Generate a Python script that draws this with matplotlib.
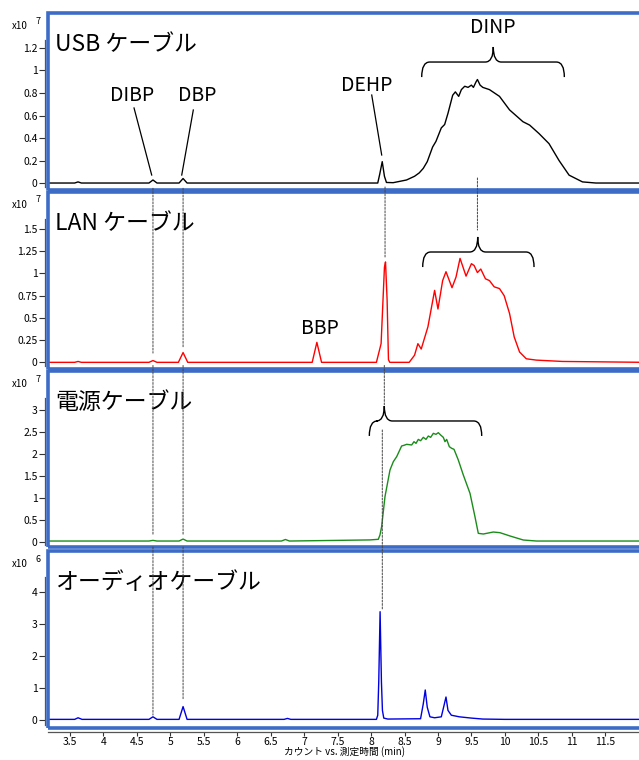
import matplotlib
matplotlib.use("Agg")
import matplotlib.pyplot as plt
from matplotlib.patches import Rectangle, PathPatch, ConnectionPatch
from matplotlib.path import Path
from matplotlib.ticker import FormatStrFormatter
import matplotlib.transforms as mtransforms

plt.rcParams["font.family"] = ["Noto Sans CJK JP", "DejaVu Sans"]

# Chromatogram traces (time in min, counts in x10^n)
usb_t = [3.17, 3.57, 3.62, 3.67, 4.68, 4.74, 4.80, 5.13, 5.19, 5.25, 8.10, 8.13,
         8.167, 8.20, 8.23, 8.33, 8.53, 8.65, 8.72, 8.78, 8.84, 8.92, 8.97, 9.05,
         9.10, 9.15, 9.22, 9.26, 9.31, 9.35, 9.40, 9.45, 9.50, 9.53, 9.57, 9.59,
         9.63, 9.67, 9.77, 9.92, 10.07, 10.27, 10.37, 10.51, 10.66, 10.81, 10.96,
         11.16, 11.36, 12.1]
usb_v = [0, 0, 0.01, 0, 0, 0.027, 0, 0, 0.04, 0, 0, 0.08,
         0.19, 0.06, 0.005, 0.003, 0.027, 0.06, 0.09, 0.13, 0.19, 0.32, 0.37, 0.49,
         0.52, 0.62, 0.78, 0.81, 0.77, 0.83, 0.86, 0.85, 0.87, 0.85, 0.90, 0.92,
         0.87, 0.85, 0.83, 0.77, 0.65, 0.545, 0.515, 0.44, 0.35, 0.20, 0.07,
         0.01, 0, 0]

lan_t = [3.17, 3.57, 3.62, 3.67, 4.68, 4.74, 4.80, 5.12, 5.19, 5.26, 7.12, 7.19,
         7.26, 8.08, 8.15, 8.20, 8.216, 8.24, 8.26, 8.28, 8.57, 8.65, 8.70, 8.75,
         8.85, 8.95, 9.00, 9.07, 9.12, 9.21, 9.27, 9.33, 9.42, 9.50, 9.54, 9.59,
         9.64, 9.71, 9.77, 9.84, 9.92, 9.99, 10.07, 10.14, 10.22, 10.32, 10.47,
         10.86, 12.1]
lan_v = [0, 0, 0.01, 0, 0, 0.02, 0, 0, 0.11, 0, 0, 0.225,
         0, 0, 0.21, 1.07, 1.13, 0.70, 0.03, 0, 0, 0.08, 0.21, 0.15,
         0.40, 0.81, 0.60, 0.92, 1.02, 0.84, 0.96, 1.17, 0.97, 1.11, 1.09, 1.01,
         1.05, 0.94, 0.92, 0.85, 0.83, 0.75, 0.55, 0.285, 0.116, 0.04, 0.025,
         0.01, 0]

power_t = [3.17, 4.68, 4.74, 4.80, 5.13, 5.19, 5.25, 6.66, 6.72, 6.78, 7.98,
           8.108, 8.133, 8.158, 8.208, 8.283, 8.333, 8.383, 8.457, 8.492, 8.532,
           8.607, 8.642, 8.672, 8.706, 8.741, 8.781, 8.821, 8.856, 8.891, 8.931,
           8.970, 9.005, 9.040, 9.080, 9.105, 9.130, 9.170, 9.205, 9.240, 9.304,
           9.379, 9.479, 9.553, 9.603, 9.678, 9.827, 9.927, 10.077, 10.276,
           10.475, 12.1]
power_v = [0.015, 0.015, 0.03, 0.015, 0.015, 0.06, 0.015, 0.015, 0.05, 0.015, 0.04,
           0.054, 0.152, 0.342, 1.025, 1.633, 1.823, 1.937, 2.18, 2.195, 2.218,
           2.203, 2.278, 2.24, 2.33, 2.30, 2.377, 2.33, 2.407, 2.377, 2.468,
           2.445, 2.483, 2.43, 2.377, 2.278, 2.33, 2.164, 2.127, 2.104, 1.861,
           1.519, 1.101, 0.57, 0.19, 0.175, 0.22, 0.205, 0.13, 0.038,
           0.015, 0.015]

audio_t = [3.17, 3.57, 3.62, 3.68, 4.68, 4.74, 4.80, 5.13, 5.19, 5.25, 6.70, 6.75,
           6.80, 8.08, 8.10, 8.115, 8.135, 8.155, 8.17, 8.19, 8.25, 8.74, 8.78,
           8.81, 8.84, 8.88, 8.95, 9.05, 9.09, 9.12, 9.15, 9.20, 9.32, 9.50, 9.67,
           10.0, 12.1]
audio_v = [0.02, 0.02, 0.07, 0.02, 0.02, 0.10, 0.02, 0.02, 0.42, 0.02, 0.02, 0.05,
           0.02, 0.02, 0.15, 1.2, 3.39, 1.2, 0.3, 0.06, 0.03, 0.04, 0.5,
           0.94, 0.4, 0.1, 0.07, 0.1, 0.45, 0.72, 0.3, 0.15, 0.1, 0.06, 0.03,
           0.02, 0.02]

titles = ["USB ケーブル", "LAN ケーブル", "電源ケーブル", "オーディオケーブル"]
exponents = ["7", "7", "7", "6"]
colors = ["black", "#ff0000", "#1a8c1a", "#0000e0"]
ylims = [(-0.062, 1.511), (-0.075, 1.917), (-0.121, 3.888), (-0.25, 5.29)]
yticks = [[0, 0.2, 0.4, 0.6, 0.8, 1, 1.2],
          [0, 0.25, 0.5, 0.75, 1, 1.25, 1.5],
          [0, 0.5, 1, 1.5, 2, 2.5, 3],
          [0, 1, 2, 3, 4]]
spine_tops = [1.27, 1.61, 3.27, 4.48]
xticks = [3.5, 4, 4.5, 5, 5.5, 6, 6.5, 7, 7.5, 8, 8.5, 9, 9.5, 10, 10.5, 11, 11.5]

W, H = 639, 760
# panel frames in pixels: (top, bottom)
frames = [(13, 190), (192, 369), (371, 547), (551, 728)]
left_px, right_px = 48, 641

fig = plt.figure(figsize=(W / 100, H / 100), dpi=100)

axes = []
traces = [(usb_t, usb_v), (lan_t, lan_v), (power_t, power_v), (audio_t, audio_v)]
for i, (top, bot) in enumerate(frames):
    ax = fig.add_axes([left_px / W, (H - bot) / H, (right_px - left_px) / W, (bot - top) / H])
    t, v = traces[i]
    ax.plot(t, v, color=colors[i], lw=1.0)
    ax.set_xlim(3.171, 12.035)
    ax.set_ylim(*ylims[i])
    ax.set_yticks(yticks[i])
    ax.yaxis.set_major_formatter(FormatStrFormatter("%g"))
    for s in ["top", "right", "bottom"]:
        ax.spines[s].set_visible(False)
    ax.spines["left"].set_position(("outward", 2))
    ax.spines["left"].set_color("#555555")
    ax.spines["left"].set_linewidth(0.9)
    ax.spines["left"].set_bounds(ylims[i][0] * 0.6, spine_tops[i])
    ax.tick_params(axis="y", length=4, width=0.8, color="#333333", labelsize=7.5, pad=1.5)
    ax.set_facecolor("none")

    # blue frame
    ax.add_patch(Rectangle((0, 0), 1, 1, transform=ax.transAxes, fill=False,
                           ec="#3c6cc6", lw=2.6, clip_on=False, zorder=5))

    ax.text(0.012, 0.82, titles[i], transform=ax.transAxes, fontsize=16.5,
            va="center", ha="left", zorder=6)

    # exponent label
    fig.text(12 / W, 1 - (top + 13) / H, "x10", fontsize=7, va="center", ha="left")
    fig.text(36 / W, 1 - (top + 8) / H, exponents[i], fontsize=6.5, va="center", ha="left")

    if i < 3:
        ax.set_xticks([])
    else:
        ax.set_xticks(xticks)
        ax.xaxis.set_major_formatter(FormatStrFormatter("%g"))
        ax.spines["bottom"].set_visible(True)
        ax.spines["bottom"].set_position(("outward", 3))
        ax.spines["bottom"].set_color("#555555")
        ax.spines["bottom"].set_linewidth(0.9)
        ax.tick_params(axis="x", length=3, width=0.8, color="#333333", labelsize=7.5, pad=0.5)
        ax.set_xlabel("カウント vs. 測定時間 (min)", fontsize=7, labelpad=-0.5)
    axes.append(ax)

ax1, ax2, ax3, ax4 = axes


def blend(ax):
    return mtransforms.blended_transform_factory(ax.transData, ax.transAxes)


# compound labels with leader lines (panel 1)
ax1.text(4.427, 0.782, "DIBP", fontsize=14, ha="center", va="center")
ax1.plot([4.457, 4.721], [0.667, 0.071], color="black", lw=0.9)
ax1.text(5.40, 0.782, "DBP", fontsize=14, ha="center", va="center")
ax1.plot([5.343, 5.170], [0.649, 0.071], color="black", lw=0.9)
ax1.text(7.94, 0.871, "DEHP", fontsize=14, ha="center", va="center")
ax1.plot([8.01, 8.159], [0.782, 0.249], color="black", lw=0.9)
ax1.text(9.82, 1.378, "DINP", fontsize=14, ha="center", va="center")
ax2.text(7.237, 0.383, "BBP", fontsize=14, ha="center", va="center")


def brace(ax, t0, t1, tc, y, r=0.12, d=0.085, u=0.085):
    verts = [(t0, y - d), (t0, y), (t0 + r, y),
             (tc - r, y), (tc, y), (tc, y + u),
             (tc, y), (tc + r, y),
             (t1 - r, y), (t1, y), (t1, y - d)]
    codes = [Path.MOVETO, Path.CURVE3, Path.CURVE3,
             Path.LINETO, Path.CURVE3, Path.CURVE3,
             Path.CURVE3, Path.CURVE3,
             Path.LINETO, Path.CURVE3, Path.CURVE3]
    ax.add_patch(PathPatch(Path(verts, codes), transform=blend(ax), fill=False,
                           ec="black", lw=1.0, clip_on=False, zorder=6))


brace(ax1, 8.757, 10.889, 9.827, 0.723)
brace(ax2, 8.772, 10.436, 9.594, 0.661)
brace(ax3, 7.974, 9.654, 8.198, 0.716)


# dashed guides linking peaks across panels (x in min, y in axes fraction)
def guide(axa, ya, axb, yb, ta, tb=None):
    if tb is None:
        tb = ta
    con = ConnectionPatch(xyA=(ta, ya), coordsA=blend(axa), xyB=(tb, yb), coordsB=blend(axb),
                          color="#444444", lw=0.7, linestyle=(0, (2, 1.5)), zorder=7)
    fig.add_artist(con)


guide(ax1, 0.01, ax2, 0.09, 4.74)
guide(ax2, 0.02, ax3, 0.07, 4.74)
guide(ax3, 0.0, ax4, 0.073, 4.74)
guide(ax1, 0.01, ax2, 0.124, 5.19)
guide(ax2, 0.02, ax3, 0.07, 5.19)
guide(ax3, 0.0, ax4, 0.158, 5.19)
guide(ax1, 0.017, ax2, 0.627, 8.209)
guide(ax2, 0.02, ax3, 0.807, 8.198)
guide(ax3, 0.665, ax4, 0.667, 8.168)
guide(ax1, 0.068, ax2, 0.785, 9.59)

fig.savefig("out.png", dpi=100)
